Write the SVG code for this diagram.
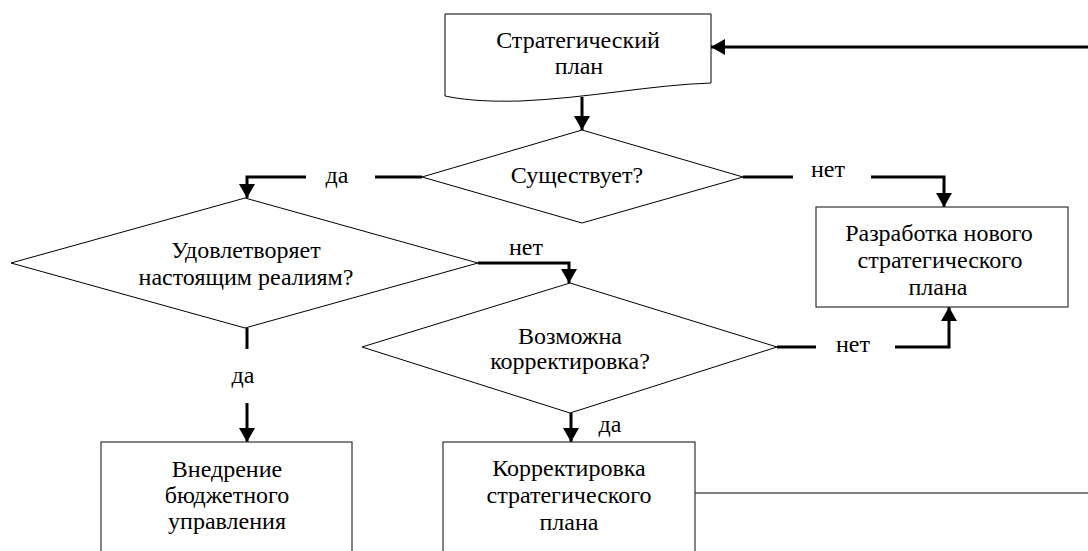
<svg xmlns="http://www.w3.org/2000/svg" width="1088" height="551" viewBox="0 0 1088 551">
<defs>
<style>
.shape{fill:#fff;stroke:#000;stroke-width:1}
.box{fill:#fff;stroke:#333;stroke-width:1.2}
.t{font-family:'Liberation Serif','Times New Roman',serif;font-size:24px;fill:#000;text-anchor:middle}
.c{fill:none;stroke:#000;stroke-width:3}
.thin{fill:none;stroke:#000;stroke-width:1.2}
</style>
<marker id="ah" markerUnits="userSpaceOnUse" markerWidth="14" markerHeight="16" refX="14" refY="8" orient="auto">
<path d="M0,0 L14,8 L0,16 Z" fill="#000"/>
</marker>
</defs>
<rect width="1088" height="551" fill="#fff"/>
<g id="connectors">
<path class="c" d="M1088,47 H711" marker-end="url(#ah)"/>
<path class="c" d="M582,97 V130" marker-end="url(#ah)"/>
<path class="c" d="M422,177 H375"/>
<path class="c" d="M306,177 H247 V198" marker-end="url(#ah)"/>
<path class="c" d="M743,177 H793"/>
<path class="c" d="M871,177 H944 V207" marker-end="url(#ah)"/>
<path class="c" d="M478,263 H569 V283" marker-end="url(#ah)"/>
<path class="c" d="M247,328 V349"/>
<path class="c" d="M247,403 V442" marker-end="url(#ah)"/>
<path class="c" d="M777,347 H816"/>
<path class="c" d="M895,347 H949 V307" marker-end="url(#ah)"/>
<path class="c" d="M571,413 V442" marker-end="url(#ah)"/>
<path class="thin" d="M695,493 H1088"/>
</g>
<g id="labels">
<text class="t" x="337" y="183">да</text>
<text class="t" x="828" y="177">нет</text>
<text class="t" x="526" y="255">нет</text>
<text class="t" x="853" y="352">нет</text>
<text class="t" x="243" y="383">да</text>
<text class="t" x="610" y="432">да</text>
</g>
<g id="node-plan">
<path class="shape" d="M445,14 H711 V83 C650,85 590,98 520,101 C480,102 460,99 445,96 Z"/>
<text class="t" x="578" y="48">Стратегический</text>
<text class="t" x="579" y="74">план</text>
</g>
<g id="node-exists">
<path class="shape" d="M582,130 L743,177 L582,223 L422,177 Z"/>
<text class="t" x="577" y="183">Существует?</text>
</g>
<g id="node-satisfies">
<path class="shape" d="M245,198 L478,263 L245,328 L11,263 Z"/>
<text class="t" x="246" y="258">Удовлетворяет</text>
<text class="t" x="246" y="285">настоящим реалиям?</text>
</g>
<g id="node-possible">
<path class="shape" d="M570,283 L777,347 L570,413 L362,347 Z"/>
<text class="t" x="570" y="344">Возможна</text>
<text class="t" x="570" y="369">корректировка?</text>
</g>
<g id="node-new">
<rect class="box" x="816" y="207" width="252" height="100"/>
<text class="t" x="939" y="241">Разработка нового</text>
<text class="t" x="940" y="268">стратегического</text>
<text class="t" x="938" y="295">плана</text>
</g>
<g id="node-budget">
<rect class="box" x="101" y="442" width="251" height="120"/>
<text class="t" x="227" y="477">Внедрение</text>
<text class="t" x="227" y="503">бюджетного</text>
<text class="t" x="227" y="529">управления</text>
</g>
<g id="node-correct">
<rect class="box" x="443" y="442" width="252" height="120"/>
<text class="t" x="569" y="476">Корректировка</text>
<text class="t" x="569" y="503">стратегического</text>
<text class="t" x="569" y="530">плана</text>
</g>
</svg>
